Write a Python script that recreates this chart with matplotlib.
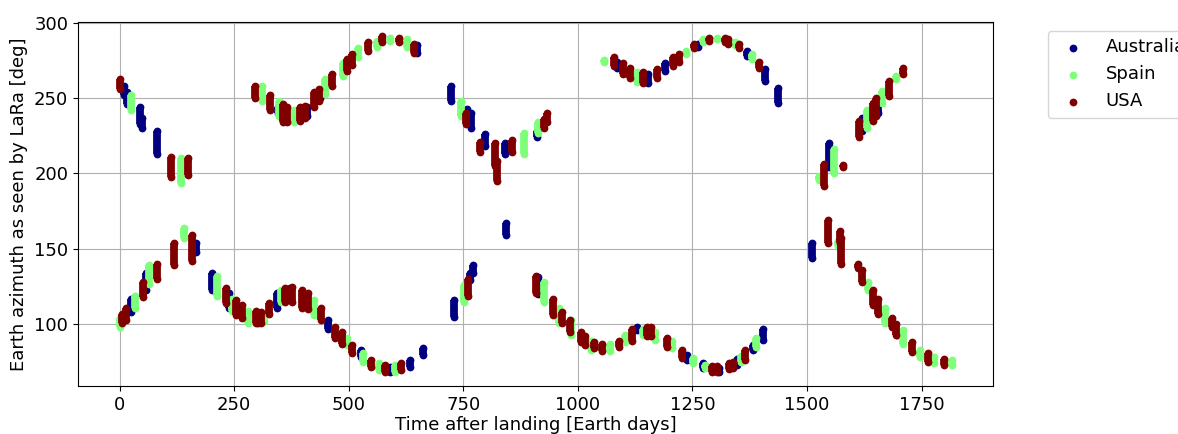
import numpy as np
import matplotlib
matplotlib.use("Agg")
import matplotlib.pyplot as plt

# tracking passes per station: (day after landing, lowest azimuth, highest azimuth)
australia = [
    (9, 252, 258), (17, 246, 254), (44, 233, 244), (49, 230, 237), (82, 213, 228),
    (298, 251, 254), (345, 240, 244), (408, 238, 244), (438, 250, 253),
    (648, 280, 285), (722, 248, 258), (757, 234, 243), (766, 230, 240),
    (798, 218.5, 226.5), (840, 213, 220), (910, 224, 228.5),
    (1086, 270, 274), (1154, 260, 266), (1191, 268, 273), (1261, 284, 286),
    (1370, 278, 281), (1409, 261.6, 269.5), (1436, 247, 257),
    (1549, 204, 220), (1621, 228.5, 237), (1654, 240, 246),
    (24, 108, 117), (57, 122.5, 134), (166, 147.7, 154), (201, 122.5, 134),
    (238, 110.6, 121), (302, 101, 107), (344, 111, 121), (372, 117, 124),
    (454, 97, 102.6), (526, 78, 83), (591, 68, 71.5), (633, 71.5, 76),
    (662, 79.5, 84), (730, 104.6, 116), (764, 129, 134), (772, 134, 139),
    (842, 159, 167), (912, 120, 131), (1128, 96, 98), (1239, 76, 79.5),
    (1272, 71, 74), (1309, 68, 71), (1348, 73, 77), (1383, 83, 86),
    (1405, 89.4, 97), (1511, 144, 153.6), (1697, 93, 95),
]

spain = [
    (24, 242, 252), (133, 194, 210), (311, 248, 258), (347, 238, 248),
    (380, 234, 242), (449, 253, 263), (487, 265, 273), (521, 277, 283),
    (562, 284, 288), (591, 288, 290), (628, 284, 289), (744, 238, 248),
    (882, 213, 227), (914, 227, 234), (1058, 274, 275.5), (1130, 261, 267),
    (1235, 279, 281), (1274, 287, 289), (1304, 289, 290), (1342, 285, 287),
    (1379, 276, 279), (1527, 196, 198), (1558, 200, 216.5), (1630, 230.5, 242),
    (1664, 247, 255), (1695, 263, 264.5),
    (0, 98, 104), (33, 111, 119), (65, 127, 139), (140, 157, 163.6),
    (212, 119, 132), (246, 109, 117), (281, 101, 109), (314, 102, 107),
    (353, 114.5, 122.5), (423, 106, 116), (495, 86, 91), (530, 75, 81),
    (565, 69.5, 74), (600, 68, 73), (751, 114.5, 126), (927, 114.5, 128),
    (958, 101, 111), (985, 92.7, 102.6), (1029, 83, 89), (1069, 82, 87),
    (1102, 88, 92.7), (1143, 93, 97), (1169, 89.4, 95), (1206, 84, 89),
    (1252, 74, 77.5), (1278, 71, 73), (1357, 75, 79), (1389, 85, 91),
    (1567, 152, 155), (1632, 122.5, 128), (1671, 101, 110.6), (1710, 87, 96),
    (1747, 78, 83), (1778, 74, 78), (1817, 73, 76),
]

usa = [
    (0, 256, 263), (113, 197.5, 211), (149, 198.7, 210.6), (296, 250, 258),
    (329, 242, 252), (356, 234, 246), (366, 234, 244), (393, 235, 244),
    (405, 237, 245), (423, 244, 254), (434, 248, 256), (464, 258, 266),
    (497, 268, 276), (507, 272, 279), (543, 281, 287), (573, 287, 291),
    (609, 287, 290), (642, 280, 286), (755, 233, 240), (786, 214, 221),
    (820, 205, 220.5), (823, 195, 208), (857, 214, 222), (926, 230, 236),
    (933, 234, 240), (1078, 271, 277), (1099, 266, 273), (1113, 263.6, 270),
    (1141, 260, 267), (1173, 263.6, 269.5), (1208, 271.5, 277), (1220, 274, 279.5),
    (1253, 283, 286), (1287, 288, 290), (1320, 287, 290), (1328, 286, 289),
    (1352, 283, 286), (1396, 270, 274), (1538, 192, 206.6), (1579, 204, 205.5),
    (1614, 224, 235), (1643, 235, 247), (1651, 238, 250), (1678, 251.7, 261.6),
    (1710, 266, 270),
    (6, 100.7, 107), (13, 102.6, 110.6), (50, 118, 128), (81, 130, 140),
    (118, 139, 153.6), (157, 142, 159), (231, 114, 124), (253, 106, 116),
    (268, 104, 112.6), (297, 101, 109), (308, 101, 108), (325, 107, 114),
    (360, 115, 124), (375, 115, 125), (398, 111, 122.5), (410, 110, 121),
    (440, 102.6, 110.6), (470, 91, 98), (485, 87, 95), (508, 81, 86),
    (548, 71.5, 76), (580, 68, 73), (613, 69.5, 74), (761, 119, 130),
    (908, 121, 132), (946, 106, 117), (966, 100.7, 108), (982, 94.7, 102.6),
    (1007, 88, 95), (1016, 86, 92), (1036, 84, 88), (1053, 82, 87),
    (1089, 85, 89), (1118, 89, 97), (1150, 92, 98), (1160, 92, 98),
    (1195, 85, 91), (1227, 77.5, 83), (1292, 68, 72), (1304, 68, 72),
    (1330, 70, 74), (1338, 71, 75), (1365, 76, 83), (1545, 153.6, 169),
    (1571, 153.6, 162), (1575, 140, 157), (1612, 137, 140), (1620, 128, 136),
    (1645, 112.6, 122.5), (1656, 107, 117), (1686, 98, 104), (1695, 93, 100),
    (1730, 81.5, 88), (1763, 75, 81), (1798, 73, 77),
]

stations = ["Australia", "Spain", "USA"]
passes = [australia, spain, usa]

fig = plt.figure(figsize=(11.78, 4.34), dpi=100)
ax = fig.add_axes([0.0662, 0.1106, 0.7768, 0.8387])

cmap = plt.cm.jet
dot = 5.6  # marker diameter in points
for i, (name, p) in enumerate(zip(stations, passes)):
    col = cmap(i / (len(stations) - 1))
    p = np.array(p)
    t, lo, hi = p[:, 0], p[:, 1], p[:, 2]
    ax.vlines(t, lo, hi, colors=[col], linewidth=dot, zorder=2 + i)
    ax.scatter(np.concatenate([t, t]), np.concatenate([lo, hi]), s=dot ** 2,
               color=col, linewidths=0, label=name, zorder=2 + i)

ax.set_xlim(-91, 1906)
ax.set_ylim(59, 300.5)
ax.grid(True)
ax.set_axisbelow(True)
ax.tick_params(labelsize=13)
ax.set_xlabel("Time after landing [Earth days]", fontsize=13, labelpad=2)
ax.set_ylabel("Earth azimuth as seen by LaRa [deg]", fontsize=13)
ax.legend(loc="upper left", bbox_to_anchor=(1.05, 1), fontsize=13)

fig.savefig("out.png", dpi=100)
